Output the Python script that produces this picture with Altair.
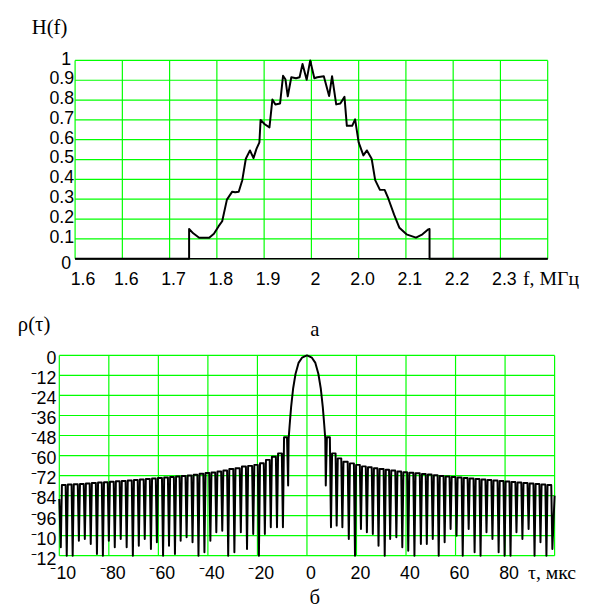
import altair as alt
import pandas as pd

SANS = "Liberation Sans"
SERIF = "Liberation Serif"
GRID = "#00ff00"

# ---------------- panel (а): H(f) ----------------
f_curve = [1.600, 1.793, 1.793, 1.800, 1.810, 1.827, 1.835, 1.843, 1.849, 1.857,
           1.866, 1.871, 1.877, 1.883, 1.889, 1.896, 1.902, 1.907, 1.912, 1.914,
           1.921, 1.929, 1.934, 1.939, 1.947, 1.952, 1.956, 1.960, 1.966, 1.974,
           1.980, 1.985, 1.992, 1.998, 2.005, 2.010, 2.021, 2.030, 2.035, 2.042,
           2.049, 2.056, 2.060, 2.069, 2.074, 2.080, 2.088, 2.094, 2.102, 2.108,
           2.116, 2.124, 2.130, 2.140, 2.149, 2.161, 2.177, 2.188, 2.198, 2.200,
           2.200, 2.400]
h_curve = [0.000, 0.000, 0.150, 0.128, 0.106, 0.106, 0.126, 0.164, 0.189, 0.298,
           0.338, 0.335, 0.338, 0.396, 0.504, 0.546, 0.507, 0.554, 0.587, 0.700,
           0.678, 0.662, 0.803, 0.778, 0.783, 0.922, 0.905, 0.819, 0.915, 0.910,
           0.915, 0.982, 0.902, 1.000, 0.910, 0.915, 0.920, 0.820, 0.920, 0.778,
           0.783, 0.816, 0.670, 0.670, 0.703, 0.587, 0.521, 0.546, 0.504, 0.396,
           0.347, 0.347, 0.305, 0.222, 0.156, 0.123, 0.106, 0.123, 0.148, 0.150,
           0.000, 0.000]

f_grid = [1.60, 1.68, 1.76, 1.84, 1.92, 2.00, 2.08, 2.16, 2.24, 2.32, 2.40]
f_tick_pos = [1.60, 1.68, 1.76, 1.84, 1.92, 2.00, 2.08, 2.16, 2.24, 2.32]
f_tick_labels = ["1.6", "1.6", "1.7", "1.8", "1.9", "2", "2.0", "2.1", "2.2", "2.3"]
h_grid = [0.0, 0.1, 0.2, 0.3, 0.4, 0.5, 0.6, 0.7, 0.8, 0.9, 1.0]
h_tick_labels = ["0", "0.1", "0.2", "0.3", "0.4", "0.5", "0.6", "0.7", "0.8", "0.9", "1"]

# ---------------- panel (б): rho(tau), dB ----------------
main_tau = [-7.4, -7.0, -6.4, -5.6, -4.6, -3.4, -2.0, 0.0, 2.0, 3.4, 4.6, 5.6, 6.4, 7.0, 7.4]
main_db = [-50, -42, -31, -20, -11, -4.5, -1.4, 0, -1.4, -4.5, -11, -20, -31, -42, -50]

right_null_tau = [7.6, 9.7, 12.0, 14.3, 16.9, 19.4, 21.8, 24.2, 26.6, 28.9,
                  31.4, 33.6, 36.1, 38.5, 40.9, 43.4, 46.0, 48.4, 50.8, 53.2,
                  55.6, 58.0, 60.4, 62.9, 65.3, 67.7, 70.1, 72.5, 74.9, 77.4,
                  79.8, 82.2, 84.6, 87.0, 89.5, 91.9, 94.3, 96.7, 99.1]
right_null_db = [-78, -103, -102, -103, -110, -120, -104, -106, -107, -114,
                 -120, -110, -109, -115, -117, -120, -113, -113, -110, -120,
                 -112, -104, -108, -120, -104, -118, -120, -106, -110, -118,
                 -120, -120, -106, -110, -104, -120, -112, -120, -116]
right_peak_db = [-49, -58.7, -61.7, -63.7, -64.7, -65.6, -66.5, -67.0, -67.6, -68.0,
                 -68.5, -69.0, -69.5, -70.0, -70.3, -70.6, -71.0, -71.3, -71.8, -72.2,
                 -72.5, -72.8, -73.1, -73.4, -73.7, -74.0, -74.3, -74.6, -74.9, -75.2,
                 -75.5, -75.8, -76.1, -76.4, -76.7, -77.0, -77.3, -77.6]

left_null_tau = [-7.6, -9.7, -12.1, -14.6, -17.0, -19.4, -21.7, -24.2, -26.7, -29.3,
                 -31.8, -34.2, -36.6, -39.0, -41.4, -43.8, -46.2, -48.6, -51.0, -53.3,
                 -55.7, -58.1, -60.6, -63.0, -65.5, -67.9, -70.3, -72.8, -75.2, -77.6,
                 -80.0, -82.4, -84.8, -87.3, -89.7, -92.1, -94.6, -97.0, -99.4]
left_null_db = [-78, -103, -103, -103, -107, -120, -107, -116, -106, -118,
                -120, -105, -106, -111, -118, -120, -112, -109, -111, -119,
                -114, -120, -112, -116, -110, -114, -120, -115, -110, -115,
                -111, -120, -119, -113, -110, -111, -120, -120, -115]
left_peak_db = [-49, -58.7, -60.7, -62.6, -64.6, -65.6, -66.2, -66.6, -67.6, -68.0,
                -69.0, -69.5, -70.1, -70.5, -70.9, -71.5, -72.0, -72.3, -72.6, -72.9,
                -73.1, -73.4, -73.7, -74.0, -74.3, -74.6, -74.9, -75.2, -75.4, -75.7,
                -76.0, -76.2, -76.5, -76.8, -77.0, -77.2, -77.4, -77.6]

edge_start = (-100.0, -86.0)
edge_end = (100.0, -84.0)

tau_grid = [-100, -80, -60, -40, -20, 0, 20, 40, 60, 80, 100]
tau_tick_pos = [-100, -80, -60, -40, -20, 0, 20, 40, 60, 80]
tau_tick_labels = ["\u207b10", "\u207b80", "\u207b60", "\u207b40", "\u207b20", "0", "20", "40", "60", "80"]
rho_grid = [0, -12, -24, -36, -48, -60, -72, -84, -96, -108, -120]
rho_tick_labels = ["0", "\u207b12", "\u207b24", "\u207b36", "\u207b48", "\u207b60", "\u207b72",
                   "\u207b84", "\u207b96", "\u207b10", "\u207b12"]

# ---------------- build the sidelobe polyline from the read nulls / peaks -------
DELTA = 0.45  # horizontal half-width of the steep null flanks (drawing only)


def lobe_points(null_tau, null_db, peak_db):
    pts = []
    for i in range(len(null_tau)):
        pts.append((null_tau[i], null_db[i]))
        if i < len(peak_db):
            a, b = null_tau[i], null_tau[i + 1]
            pts.append((a + DELTA, peak_db[i]))
            pts.append((b - DELTA, peak_db[i]))
    return pts


left_pts = lobe_points(left_null_tau[::-1], left_null_db[::-1], left_peak_db[::-1])
right_pts = lobe_points(right_null_tau, right_null_db, right_peak_db)
rho_pts = [edge_start] + left_pts + list(zip(main_tau, main_db)) + right_pts + [edge_end]
rho_df = pd.DataFrame({"i": range(len(rho_pts)),
                       "tau": [p[0] for p in rho_pts],
                       "rho": [p[1] for p in rho_pts]})
h_df = pd.DataFrame({"i": range(len(f_curve)), "f": f_curve, "h": h_curve})

# ---------------- scales (pixel ranges place the two panels) ----------------
TX = alt.Scale(domain=[1.6, 2.4], range=[68, 547], nice=False, zero=False)
TY = alt.Scale(domain=[0, 1], range=[250, 49], nice=False, zero=False)
BX = alt.Scale(domain=[-100, 100], range=[52, 554], nice=False, zero=False)
BY = alt.Scale(domain=[-120, 0], range=[551, 348], nice=False, zero=False)

one = pd.DataFrame({"a": [0]})
layers = []

# top grid
layers.append(alt.Chart(pd.DataFrame({"f": f_grid})).mark_rule(color=GRID, strokeWidth=1.2).encode(
    x=alt.X("f:Q", scale=TX, axis=None),
    y=alt.Y(datum=0, type="quantitative", scale=TY, axis=None), y2=alt.Y2(datum=1)))
layers.append(alt.Chart(pd.DataFrame({"h": h_grid})).mark_rule(color=GRID, strokeWidth=1.2).encode(
    y=alt.Y("h:Q", scale=TY, axis=None),
    x=alt.X(datum=1.6, type="quantitative", scale=TX, axis=None), x2=alt.X2(datum=2.4)))
# top black baseline
layers.append(alt.Chart(one).mark_rule(color="black", strokeWidth=1.5).encode(
    y=alt.Y(datum=0, type="quantitative", scale=TY, axis=None),
    x=alt.X(datum=1.6, type="quantitative", scale=TX, axis=None), x2=alt.X2(datum=2.4)))
# top curve
layers.append(alt.Chart(h_df).mark_line(color="black", strokeWidth=2, strokeJoin="round").encode(
    x=alt.X("f:Q", scale=TX, axis=None), y=alt.Y("h:Q", scale=TY, axis=None), order="i:Q"))

# bottom grid
layers.append(alt.Chart(pd.DataFrame({"t": tau_grid})).mark_rule(color=GRID, strokeWidth=1.2).encode(
    x=alt.X("t:Q", scale=BX, axis=None),
    y=alt.Y(datum=-120, type="quantitative", scale=BY, axis=None), y2=alt.Y2(datum=0)))
layers.append(alt.Chart(pd.DataFrame({"r": rho_grid})).mark_rule(color=GRID, strokeWidth=1.2).encode(
    y=alt.Y("r:Q", scale=BY, axis=None),
    x=alt.X(datum=-100, type="quantitative", scale=BX, axis=None), x2=alt.X2(datum=100)))
# bottom curve
layers.append(alt.Chart(rho_df).mark_line(color="black", strokeWidth=2, strokeJoin="round").encode(
    x=alt.X("tau:Q", scale=BX, axis=None), y=alt.Y("rho:Q", scale=BY, axis=None), order="i:Q"))

# tick labels, panel а
fl = pd.DataFrame({"v": f_tick_pos, "label": f_tick_labels})
for sel, dx in [("datum.v < 1.62", 8), ("datum.v > 1.62", 4)]:
    layers.append(alt.Chart(fl).transform_filter(sel).mark_text(
        font=SANS, fontSize=18, align="center", baseline="alphabetic", dx=dx, dy=27, color="black").encode(
        x=alt.X("v:Q", scale=TX, axis=None),
        y=alt.Y(datum=0, type="quantitative", scale=TY, axis=None), text="label:N"))
hl = pd.DataFrame({"v": h_grid, "label": h_tick_labels})
for sel, dx, dy in [("datum.v > 0.05 && datum.v < 0.95", -1, -1),
                    ("datum.v < 0.05", -4, 5),
                    ("datum.v > 0.95", -4, 0)]:
    layers.append(alt.Chart(hl).transform_filter(sel).mark_text(
        font=SANS, fontSize=18, align="right", baseline="middle", dx=dx, dy=dy, color="black").encode(
        y=alt.Y("v:Q", scale=TY, axis=None),
        x=alt.X(datum=1.6, type="quantitative", scale=TX, axis=None), text="label:N"))

# tick labels, panel б
layers.append(alt.Chart(pd.DataFrame({"v": tau_tick_pos, "label": tau_tick_labels})).mark_text(
    font=SANS, fontSize=18, align="center", baseline="alphabetic", dx=4, dy=24, color="black").encode(
    x=alt.X("v:Q", scale=BX, axis=None),
    y=alt.Y(datum=-120, type="quantitative", scale=BY, axis=None), text="label:N"))
layers.append(alt.Chart(pd.DataFrame({"v": rho_grid, "label": rho_tick_labels})).mark_text(
    font=SANS, fontSize=18, align="right", baseline="middle", dx=-3, dy=4, color="black").encode(
    y=alt.Y("v:Q", scale=BY, axis=None),
    x=alt.X(datum=-100, type="quantitative", scale=BX, axis=None), text="label:N"))


# titles / captions
def caption(text, x, y, align="left", size=21):
    return alt.Chart(pd.DataFrame({"label": [text]})).mark_text(
        font=SERIF, fontSize=size, align=align, baseline="alphabetic", color="black").encode(
        x=alt.value(x), y=alt.value(y), text="label:N")


layers.append(caption("H(f)", 24, 22))
layers.append(caption("f, МГц", 522, 277, size=20))
layers.append(caption("ρ(τ)", 10, 323))
layers.append(caption("а", 311, 328, align="center"))
layers.append(caption("τ, мкс", 527, 575, size=20))
layers.append(caption("б", 311, 600, align="center"))

chart = alt.layer(*layers).resolve_scale(x="independent", y="independent").properties(
    width=599, height=605, padding=0, autosize=alt.AutoSizeParams(type="none"),
).configure_view(stroke=None)

chart.save("out.html", embed_options={"renderer": "svg", "actions": False})
